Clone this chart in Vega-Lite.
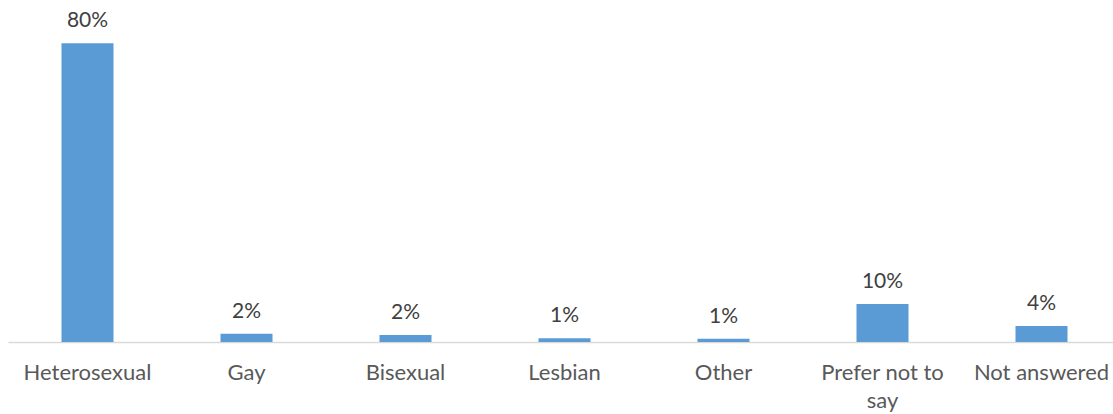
{
  "$schema": "https://vega.github.io/schema/vega-lite/v6.json",
  "autosize": "none",
  "width": 1105,
  "height": 336,
  "padding": {"left": 8, "top": 6, "right": 0, "bottom": 72},
  "background": "white",
  "config": {"view": {"stroke": null}},
  "data": {
    "values": [
      {"category": "Heterosexual", "value": 80.0, "label": "80%"},
      {"category": "Gay", "value": 2.2, "label": "2%"},
      {"category": "Bisexual", "value": 1.9, "label": "2%"},
      {"category": "Lesbian", "value": 1.0, "label": "1%"},
      {"category": "Other", "value": 0.86, "label": "1%"},
      {"category": "Prefer not to say", "value": 10.2, "label": "10%"},
      {"category": "Not answered", "value": 4.3, "label": "4%"}
    ]
  },
  "encoding": {
    "x": {
      "field": "category",
      "type": "nominal",
      "sort": null,
      "scale": {"paddingInner": 0, "paddingOuter": 0, "range": [0, 1113]},
      "axis": {
        "title": null,
        "labelAngle": 0,
        "labelFont": "Lato",
        "labelFontSize": 22,
        "labelColor": "#595959",
        "labelPadding": 20,
        "labelLineHeight": 28,
        "labelExpr": "datum.value == 'Prefer not to say' ? ['Prefer not to', 'say'] : datum.value",
        "ticks": false,
        "tickSize": 0,
        "domainColor": "#D9D9D9",
        "domainWidth": 1.5,
        "grid": false,
        "labelOverlap": false
      }
    },
    "y": {
      "field": "value",
      "type": "quantitative",
      "scale": {"domain": [0, 90], "nice": false},
      "axis": null
    }
  },
  "layer": [
    {"mark": {"type": "bar", "color": "#5B9BD5", "size": 52}},
    {
      "mark": {"type": "text", "font": "Lato", "fontSize": 21, "color": "#404040", "baseline": "alphabetic", "dy": -16},
      "encoding": {"text": {"field": "label"}}
    }
  ]
}
